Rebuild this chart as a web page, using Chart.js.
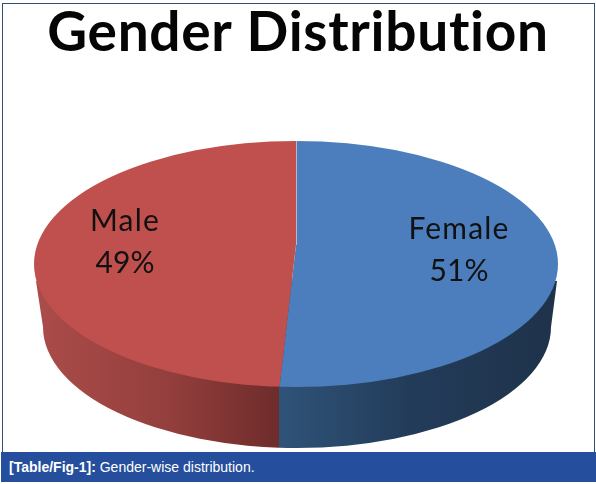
<!DOCTYPE html>
<html>
<head>
<meta charset="utf-8">
<title>Gender Distribution</title>
<script src="https://cdn.jsdelivr.net/npm/chart.js@4"></script>
<style>
  html, body { margin: 0; padding: 0; background: #fff; }
  #wrap { position: relative; width: 596px; height: 484px; overflow: hidden; }
  #myChart { position: absolute; left: 0; top: 0; }
  #frame { position: absolute; left: 2px; top: 3px; width: 591px; height: 449px; border: 1px solid #2f5070; border-bottom: 0; }
  #caption {
    position: absolute; left: 1px; top: 452px; width: 595px; height: 30px;
    background: #254f9d; color: #fff;
    font: 14px/30px "Liberation Sans", Arial, sans-serif; text-indent: 8px;
  }
</style>
</head>
<body>
<div id="wrap">
  <canvas id="myChart" width="596" height="484"></canvas>
  <div id="frame"></div>
  <div id="caption"><b>[Table/Fig-1]:</b> Gender-wise distribution.</div>
</div>
<script>
var categories = ["Female", "Male"];
var shares = [51, 49];
var topColors = ["#4c7ebd", "#c0504d"];
var chartTitle = "Gender Distribution";

// the slices fan out from this point (the pie is seen in perspective)
var apex = { x: 296, y: 245, squash: 0.543 };
var rim = { x: 296, y: 264, rx: 262, ry: 123 };
var floor = { x: 297, y: 327, rx: 254, ry: 121 };
var seamX = 279;
var labelSpots = [{ x: 459, y: 229 }, { x: 125, y: 221 }];

function drawWall(ctx, from, to, stops) {
  ctx.save();
  ctx.beginPath();
  ctx.rect(from, 0, to - from, 484);
  ctx.clip();
  var grad = ctx.createLinearGradient(from, 0, to, 0);
  stops.forEach(function (s) { grad.addColorStop(s[0], s[1]); });
  ctx.fillStyle = grad;
  ctx.beginPath();
  ctx.moveTo(36, 281);
  ctx.ellipse(floor.x, floor.y, floor.rx, floor.ry, 0, Math.PI, 0, true);
  ctx.lineTo(557, 281);
  ctx.closePath();
  ctx.fill();
  ctx.restore();
}

var pie3d = {
  id: "pie3d",
  beforeDraw: function (chart) {
    // a little spacing also stops Lato joining the "ti" in the title
    chart.ctx.letterSpacing = "0.7px";
  },
  beforeDatasetsDraw: function (chart) {
    var ctx = chart.ctx;
    var arc = chart.getDatasetMeta(0).data[0];
    drawWall(ctx, 30, seamX, [[0, "#ac4d4a"], [0.55, "#943f3d"], [1, "#6e2c2b"]]);
    drawWall(ctx, seamX, 565, [[0, "#2f5378"], [0.45, "#233c5a"], [1, "#1e3249"]]);
    ctx.save();
    ctx.beginPath();
    ctx.ellipse(rim.x, rim.y, rim.rx, rim.ry, 0, 0, Math.PI * 2);
    ctx.clip();
    ctx.translate(apex.x, apex.y);
    ctx.scale(1, apex.squash);
    ctx.translate(-arc.x, -arc.y);
  },
  afterDatasetsDraw: function (chart) {
    var ctx = chart.ctx;
    ctx.restore();
    // thin pale seam on the back edge between the slices
    ctx.strokeStyle = "rgba(215,205,210,0.75)";
    ctx.lineWidth = 1;
    ctx.beginPath();
    ctx.moveTo(apex.x + 0.5, rim.y - rim.ry);
    ctx.lineTo(apex.x + 0.5, apex.y);
    ctx.stroke();
    ctx.fillStyle = "#111";
    ctx.font = "30px Lato, sans-serif";
    ctx.textAlign = "center";
    ctx.textBaseline = "middle";
    categories.forEach(function (name, i) {
      ctx.letterSpacing = "1.2px";
      ctx.fillText(name, labelSpots[i].x, labelSpots[i].y);
      ctx.letterSpacing = "0px";
      ctx.fillText(shares[i] + "%", labelSpots[i].x, labelSpots[i].y + 42);
    });
  }
};

var ctx = document.getElementById("myChart").getContext("2d");
var chart = new Chart(ctx, {
  type: "pie",
  data: {
    labels: categories,
    datasets: [{
      data: shares,
      backgroundColor: topColors,
      borderWidth: 0,
      clip: false
    }]
  },
  options: {
    responsive: false,
    animation: false,
    radius: 420,
    events: [],
    plugins: {
      legend: { display: false },
      tooltip: { enabled: false },
      title: {
        display: true,
        text: chartTitle,
        color: "#050505",
        font: { family: "Lato", size: 55, weight: "bold" },
        padding: { top: 0, bottom: 0 }
      }
    }
  },
  plugins: [pie3d]
});
</script>
</body>
</html>
